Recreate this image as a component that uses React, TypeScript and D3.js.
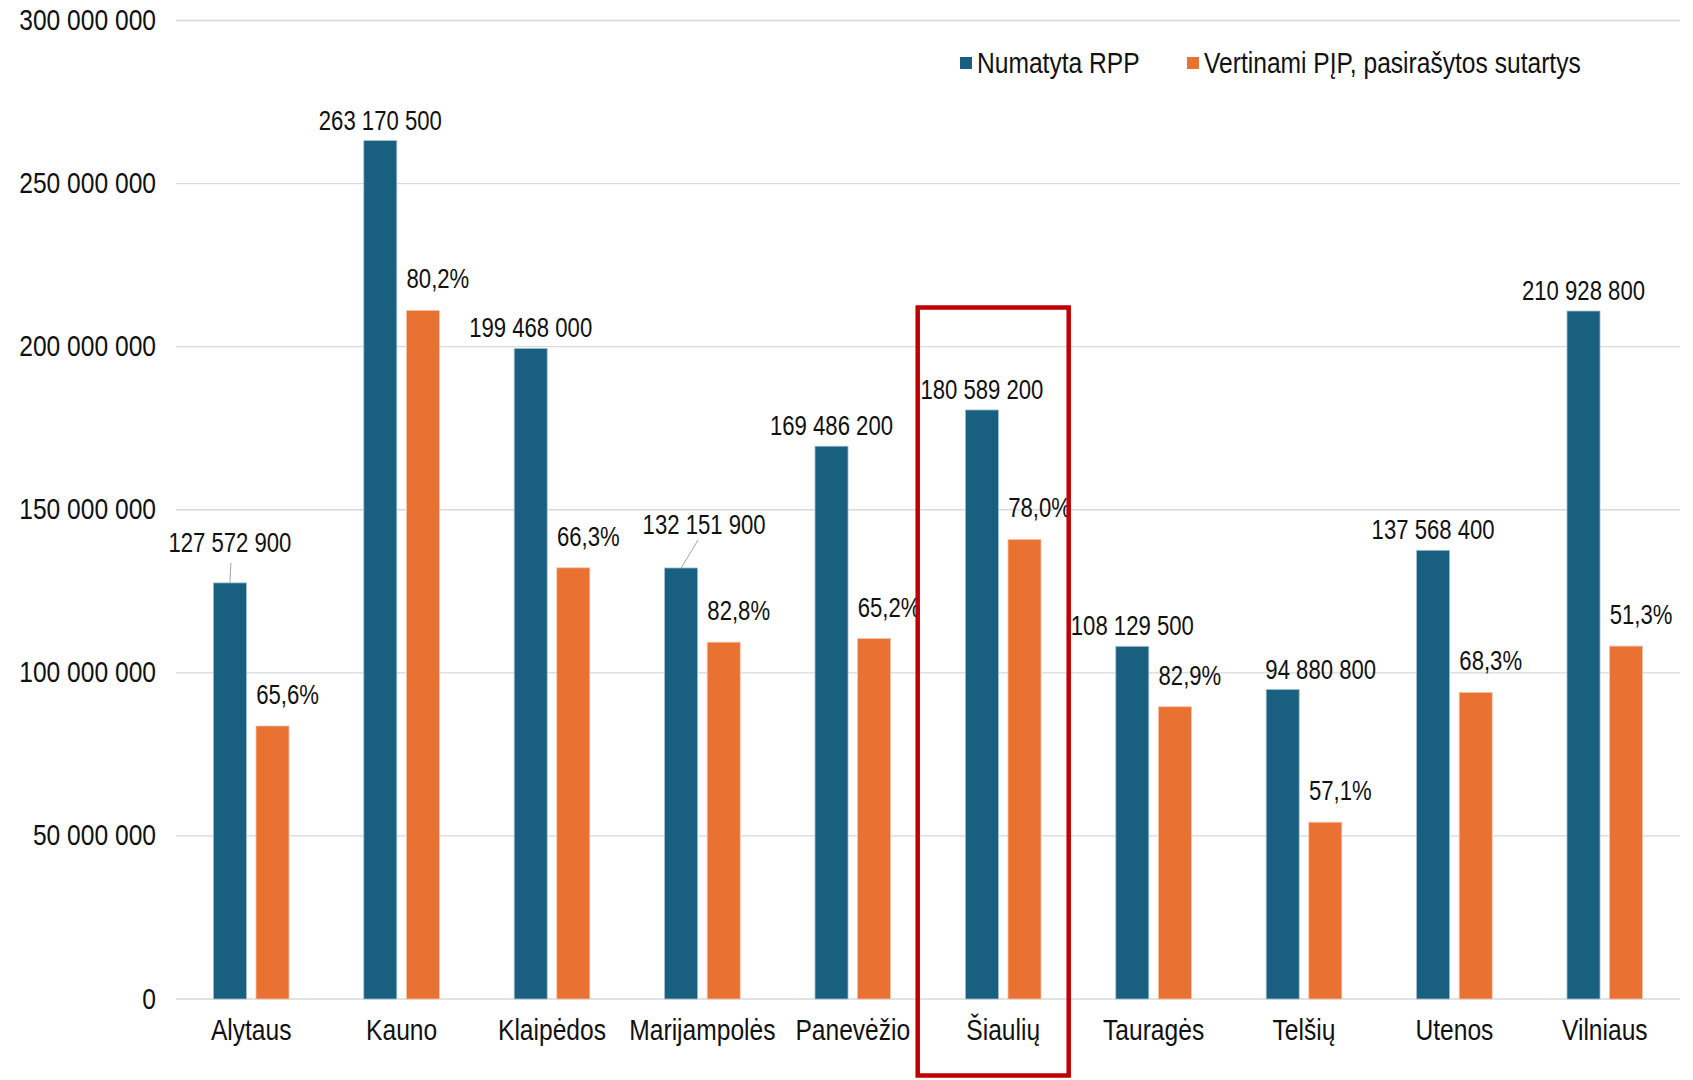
import React, { useEffect, useRef } from 'react';
import * as d3 from 'd3';

const categories = ['Alytaus', 'Kauno', 'Klaipėdos', 'Marijampolės', 'Panevėžio', 'Šiaulių', 'Tauragės', 'Telšių', 'Utenos', 'Vilniaus'];
// Numatyta RPP
const planned = [127572900, 263170500, 199468000, 132151900, 169486200, 180589200, 108129500, 94880800, 137568400, 210928800];
// Vertinami PĮP, pasirašytos sutartys
const signed = [83700000, 211100000, 132200000, 109400000, 110500000, 140900000, 89600000, 54200000, 94000000, 108200000];
const signedLabels = ['65,6%', '80,2%', '66,3%', '82,8%', '65,2%', '78,0%', '82,9%', '57,1%', '68,3%', '51,3%'];
const yTicks = [0, 50000000, 100000000, 150000000, 200000000, 250000000, 300000000];
const seriesNames = ['Numatyta RPP', 'Vertinami PĮP, pasirašytos sutartys'];
const highlighted = 'Šiaulių';

const FONT = '"Liberation Sans", Arial, sans-serif';
const SQUEEZE = 0.82; // narrow look of the original font
const BLUE = '#185f80';
const ORANGE = '#e97132';

const fmt = (v: number) => d3.format(',')(v).replace(/,/g, ' ');

const App = () => {
    const ref = useRef<SVGSVGElement>(null);

    useEffect(() => {
        const width = 1693;
        const height = 1080;
        const svg = d3.select(ref.current);
        svg.selectAll('*').remove();

        const xScale = d3.scaleBand().domain(categories).range([176, 1680]);
        const yScale = d3.scaleLinear().domain([0, 300000000]).range([999, 20.5]);
        const bw = 33;
        const gap = 4.8;
        const cx = (c: string) => (xScale(c) as number) + xScale.bandwidth() / 2;

        const label = (g: any, x: number, y: number, txt: string, size: number, anchor: string, dy = '0') =>
            g.append('text')
                .attr('transform', `translate(${x},${y}) scale(${SQUEEZE},1)`)
                .attr('dy', dy)
                .attr('text-anchor', anchor)
                .attr('font-family', FONT)
                .attr('font-size', size)
                .attr('fill', '#111')
                .text(txt);

        // gridlines
        svg.append('g')
            .selectAll('line')
            .data(yTicks)
            .enter()
            .append('line')
            .attr('x1', 176)
            .attr('x2', 1680)
            .attr('y1', d => yScale(d))
            .attr('y2', d => yScale(d))
            .attr('stroke', '#d9d9d9')
            .attr('stroke-width', 1.3);

        // y axis labels
        const yAxisG = svg.append('g');
        yTicks.forEach(t => label(yAxisG, 156, yScale(t) - 1, fmt(t), 30, 'end', '0.35em'));

        // x labels
        const xAxisG = svg.append('g');
        categories.forEach(c => label(xAxisG, cx(c), 1029, c, 30, 'middle', '0.35em'));

        // bars
        svg.append('g')
            .selectAll('rect')
            .data(categories)
            .enter()
            .append('rect')
            .attr('x', d => cx(d) - gap - bw)
            .attr('y', (d, i) => yScale(planned[i]))
            .attr('width', bw)
            .attr('height', (d, i) => yScale(0) - yScale(planned[i]))
            .attr('fill', BLUE)
            .attr('stroke', '#9fc0d0')
            .attr('stroke-width', 0.8);

        svg.append('g')
            .selectAll('rect')
            .data(categories)
            .enter()
            .append('rect')
            .attr('x', d => cx(d) + gap)
            .attr('y', (d, i) => yScale(signed[i]))
            .attr('width', bw)
            .attr('height', (d, i) => yScale(0) - yScale(signed[i]))
            .attr('fill', ORANGE)
            .attr('stroke', '#f5c4a6')
            .attr('stroke-width', 0.8);

        // label nudges for the blue labels that were dragged in the original
        const nudge: { [k: string]: [number, number] } = {
            Alytaus: [0, -20],
            Marijampolės: [23, -23],
            Telšių: [38, 0],
        };

        const blueLabels = svg.append('g');
        categories.forEach((c, i) => {
            const bx = cx(c) - gap - bw / 2;
            const top = yScale(planned[i]);
            const [dx, dy] = nudge[c] || [0, 0];
            if (c === 'Alytaus') {
                blueLabels.append('line')
                    .attr('x1', bx).attr('x2', bx + 1)
                    .attr('y1', top).attr('y2', top - 20)
                    .attr('stroke', '#a6a6a6').attr('stroke-width', 1);
            }
            if (c === 'Marijampolės') {
                blueLabels.append('line')
                    .attr('x1', bx).attr('x2', bx + 17)
                    .attr('y1', top).attr('y2', top - 28)
                    .attr('stroke', '#a6a6a6').attr('stroke-width', 1);
            }
            label(blueLabels, bx + dx, top - 11 + dy, fmt(planned[i]), 27, 'middle');
        });

        const orangeLabels = svg.append('g');
        categories.forEach((c, i) => {
            label(orangeLabels, cx(c) + gap + bw / 2 + 15, yScale(signed[i]) - 22, signedLabels[i], 27, 'middle');
        });

        // highlight box
        const hc = cx(highlighted) - 10;
        svg.append('rect')
            .attr('x', hc - 75.5)
            .attr('y', 307.5)
            .attr('width', 151)
            .attr('height', 768)
            .attr('fill', 'none')
            .attr('stroke', '#c00000')
            .attr('stroke-width', 4.5);

        // legend
        const legend = svg.append('g');
        const legendX = [960, 1187];
        seriesNames.forEach((name, i) => {
            legend.append('rect')
                .attr('x', legendX[i])
                .attr('y', 57)
                .attr('width', 12)
                .attr('height', 12)
                .attr('fill', i === 0 ? BLUE : ORANGE);
            label(legend, legendX[i] + 17, 62, name, 30, 'start', '0.35em');
        });

        svg.attr('width', width).attr('height', height);
    }, []);

    return (
        <div style={{ position: 'absolute', left: 0, top: 0, background: '#fff' }}>
            <svg ref={ref} width={1693} height={1080} style={{ display: 'block' }} />
        </div>
    );
};

export default App;
